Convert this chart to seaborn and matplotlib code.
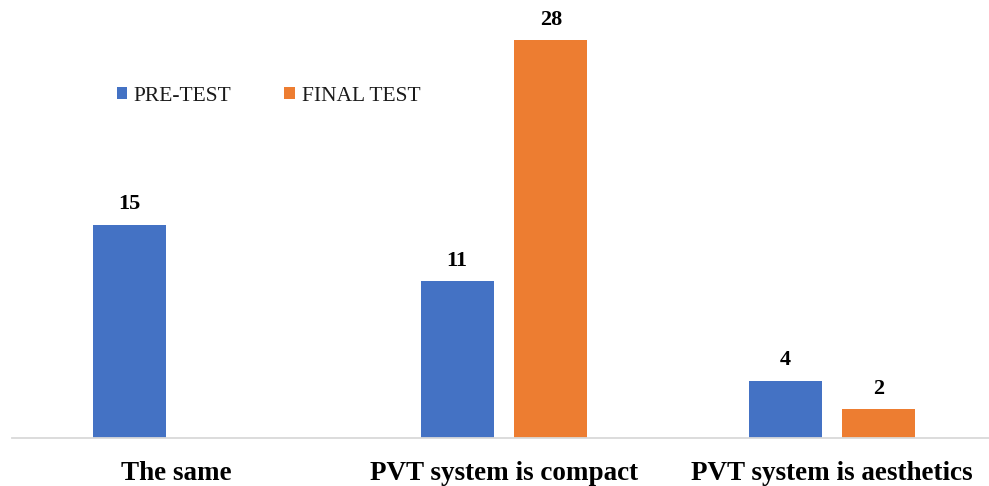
import matplotlib
matplotlib.use("Agg")
import matplotlib.pyplot as plt
import seaborn as sns
import pandas as pd

categories = ["The same", "PVT system is compact", "PVT system is aesthetics"]
series = ["PRE-TEST", "FINAL TEST"]
pre_test = [15, 11, 4]
final_test = [0, 28, 2]
colors = ["#4472C4", "#ED7D31"]

df = pd.DataFrame({
    "category": categories * 2,
    "series": [series[0]] * 3 + [series[1]] * 3,
    "value": pre_test + final_test,
})

sns.set_theme(style="white")
plt.rcParams["font.family"] = ["Liberation Serif", "DejaVu Serif"]

W, H = 989, 486
fig = plt.figure(figsize=(W / 100, H / 100), dpi=100)
ax = fig.add_axes([12 / W, 48.5 / H, (W - 12) / W, (H - 48.5) / H])

sns.barplot(data=df, x="category", y="value", hue="series", order=categories,
            hue_order=series, palette=colors, width=0.573, gap=0.223,
            saturation=1, ax=ax, legend=True, linewidth=0)

ax.set_xlim(-0.5, 2.5 - 7 / 328)
ax.set_ylim(0, 30.82)

for cont in ax.containers:
    labels = [f"{v:g}" if v > 0 else "" for v in cont.datavalues]
    ax.bar_label(cont, labels=labels, padding=7.5, fontsize=16,
                 fontweight="bold", color="black")

ax.set_xlabel("")
ax.set_ylabel("")
ax.set_yticks([])
ax.tick_params(axis="x", length=0, pad=17, labelsize=19.5)
for t in ax.get_xticklabels():
    t.set_fontweight("bold")
    t.set_color("black")

for s in ["top", "right", "left"]:
    ax.spines[s].set_visible(False)
ax.spines["bottom"].set_color("#D9D9D9")
ax.spines["bottom"].set_linewidth(1.3)

leg = ax.legend(loc="upper left", bbox_to_anchor=(96 / (W - 12), 1 - 78 / (H - 48.5)),
                ncol=2, frameon=False, fontsize=15.5, handlelength=0.5,
                handleheight=0.5, handletextpad=0.3, columnspacing=2.45,
                borderaxespad=0)
for t in leg.get_texts():
    t.set_color("#1a1a1a")

fig.savefig("out.png", dpi=100)
